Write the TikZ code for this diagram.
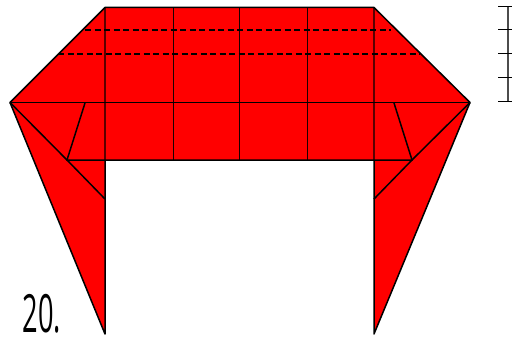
\documentclass[tikz,border=0pt]{standalone}
\usepackage{fontspec}
\setmainfont{Liberation Sans}
\newfontfamily\stepfont{Open Sans}
\usepackage{xcolor}
\usetikzlibrary{positioning,calc}
\definecolor{cPaper}{RGB}{255,0,0}
\definecolor{cCrease}{RGB}{90,0,0}
\tikzset{
  edgeln/.style={draw=black,line width=1.5pt},
  creaseln/.style={draw=cCrease,line width=1.5pt},
  gridln/.style={draw=black!90!cPaper,line width=1pt},
  foldln/.style={draw=black,line width=1.2pt,dash pattern=on 6pt off 3.5pt},
  rulerln/.style={draw=black,line width=1pt},
  steplabel/.style={font=\stepfont\fontsize{34}{34}\selectfont,inner sep=0pt,
                    xscale=0.8,yscale=1.55,transform shape}
}

\begin{document}
\begin{tikzpicture}[x=1pt,y=-1pt]
  \useasboundingbox (0,0) rectangle (512,337);

  % main outline points
  \coordinate (topL) at (105,7.5);
  \coordinate (topR) at (374,7.5);
  \coordinate (tipL) at (10,102.5);
  \coordinate (tipR) at (470,102.5);
  \coordinate (botL) at (67,160);
  \coordinate (botR) at (412,160);
  \coordinate (inL) at (105,160);
  \coordinate (inR) at (374,160);
  \coordinate (midL) at (105,199);
  \coordinate (midR) at (374,199);
  \coordinate (endL) at (105,334);
  \coordinate (endR) at (374,334);

  % paper
  \fill[cPaper] (topL)--(topR)--(tipR)--(endR)--(inR)--(inL)--(endL)--(tipL)--cycle;

  % creases
  \foreach \x in {173,239,307} {
    \draw[gridln] (\x,7.5)--(\x,160);
  }
  \draw[creaseln] (topL)--(inL);
  \draw[creaseln] (topR)--(inR);
  \draw[edgeln,line width=1.2pt] (tipL)--(tipR);

  % dashed folds
  \draw[foldln] (85,30)--(391,30);
  \draw[foldln] (58,54)--(420,54);

  % flaps
  \draw[edgeln] (85,103)--(botL)--(midL);
  \draw[edgeln] (tipL)--(botL)--(botR)--(tipR);
  \draw[edgeln] (394,103)--(botR)--(midR);

  % outline
  \draw[edgeln,line join=round] (inL)--(endL)--(tipL)--(topL)--(topR)--(tipR)--(endR)--(inR);

  % ruler
  \draw[rulerln,draw=black!70,line width=1.2pt] (508,6.5)--(508,102);
  \foreach \y in {6.5,30,54,78,102} {
    \draw[rulerln] (498,\y)--(512,\y);
  }

  \node[steplabel,anchor=south] (stepnum) at (42,334) {20.};
\end{tikzpicture}
\end{document}
